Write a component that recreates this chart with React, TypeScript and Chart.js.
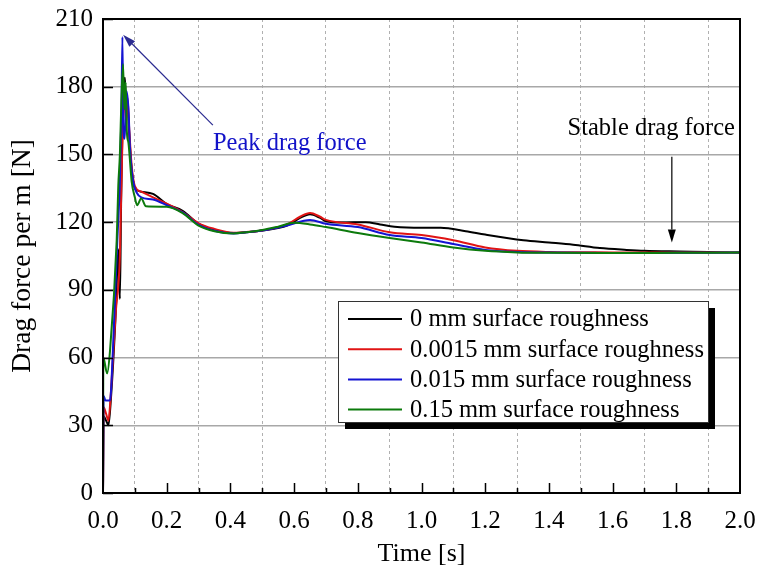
import React, { useEffect, useRef } from "react";
import { Chart, registerables } from "chart.js";

Chart.register(...registerables);

// ---- Data ----
const seriesNames = [
  "0 mm surface roughness",
  "0.0015 mm surface roughness",
  "0.015 mm surface roughness",
  "0.15 mm surface roughness",
];
const seriesColors = ["#000000", "#e01414", "#1414d2", "#0c7a0c"];

const timeBlack = [0, 0.002, 0.01, 0.017, 0.025, 0.04, 0.048, 0.053, 0.057, 0.062, 0.069, 0.073, 0.077, 0.082, 0.09, 0.1, 0.12, 0.157, 0.2, 0.25, 0.3, 0.35, 0.41, 0.45, 0.5, 0.578, 0.62, 0.65, 0.68, 0.7, 0.75, 0.825, 0.87, 0.915, 1.0, 1.06, 1.139, 1.2, 1.32, 1.4, 1.476, 1.56, 1.644, 1.7, 1.81, 1.9, 2.0];
const forceBlack = [0, 34, 32, 30, 42, 80, 108, 86, 130, 170, 184, 168, 172, 160, 143, 135, 133.5, 132.5, 128, 125, 119.3, 116.5, 115.2, 115.5, 116.3, 118.5, 122, 123.5, 122, 120.4, 119.8, 120, 119, 118, 117.5, 117.5, 116, 114.5, 112, 111, 110, 108.5, 107.7, 107.3, 107, 106.8, 106.5];

const timeRed = [0, 0.002, 0.01, 0.017, 0.025, 0.04, 0.053, 0.056, 0.06, 0.064, 0.068, 0.072, 0.077, 0.082, 0.09, 0.1, 0.12, 0.157, 0.2, 0.25, 0.3, 0.35, 0.41, 0.45, 0.5, 0.578, 0.62, 0.65, 0.68, 0.7, 0.8, 0.9, 1.0, 1.1, 1.2, 1.3, 1.4, 1.6, 1.8, 2.0];
const forceRed = [0, 38, 35, 32, 45, 80, 105, 125, 150, 170, 178, 165, 175, 162, 145, 136, 133.5, 131, 128.2, 124.5, 119.5, 117, 115.3, 115.6, 116.3, 119, 122.5, 124, 122.5, 121, 119, 115.5, 114.3, 112, 108.8, 107.3, 106.8, 106.6, 106.5, 106.5];

const timeBlue = [0, 0.002, 0.008, 0.022, 0.031, 0.045, 0.053, 0.058, 0.061, 0.064, 0.068, 0.074, 0.08, 0.085, 0.095, 0.106, 0.12, 0.157, 0.2, 0.25, 0.3, 0.35, 0.41, 0.45, 0.5, 0.578, 0.65, 0.7, 0.8, 0.9, 1.0, 1.1, 1.2, 1.3, 1.4, 1.6, 1.8, 2.0];
const forceBlue = [0, 43, 41, 41, 63, 112, 138, 170, 202, 160, 157, 178, 170, 152, 138, 133, 131, 130, 127.5, 124.3, 118.8, 116.2, 115, 115.5, 116.3, 118.5, 121, 119.3, 117.8, 114.3, 113, 110.3, 107.7, 106.8, 106.5, 106.3, 106.4, 106.5];

const timeGreen = [0, 0.001, 0.013, 0.022, 0.043, 0.048, 0.053, 0.058, 0.063, 0.067, 0.071, 0.075, 0.08, 0.09, 0.1, 0.107, 0.12, 0.135, 0.2, 0.25, 0.3, 0.35, 0.41, 0.45, 0.5, 0.55, 0.6, 0.65, 0.7, 0.8, 0.9, 1.0, 1.1, 1.2, 1.3, 1.4, 1.6, 1.8, 2.0];
const forceGreen = [0, 60, 53, 63, 112, 136, 150, 175, 190, 170, 182, 160, 155, 138, 131, 127.5, 130.5, 127, 126.8, 124, 118.5, 116, 115, 115.5, 116.5, 118, 119.7, 119, 117.8, 115.2, 113, 111, 108.8, 107.3, 106.6, 106.4, 106.3, 106.4, 106.5];

const seriesTimes = [timeBlack, timeRed, timeBlue, timeGreen];
const seriesForces = [forceBlack, forceRed, forceBlue, forceGreen];

const yTickValues = [0, 30, 60, 90, 120, 150, 180, 210];
const xMin = 0;
const xMax = 2.0;

const peakLabel = "Peak drag force";
const peakArrowFrom = [0.345, 163];
const peakArrowTo = [0.063, 203];
const peakLabelAt = [0.345, 155];

const stableLabel = "Stable drag force";
const stableArrowFrom = [1.786, 149];
const stableArrowTo = [1.786, 111];
const stableLabelAt = [1.984, 161.5];

const FONT = "'Liberation Serif', 'Times New Roman', serif";

function drawArrow(ctx: CanvasRenderingContext2D, x1: number, y1: number, x2: number, y2: number, color: string, headLen: number, headW: number) {
  const ang = Math.atan2(y2 - y1, x2 - x1);
  const bx = x2 - headLen * Math.cos(ang);
  const by = y2 - headLen * Math.sin(ang);
  ctx.save();
  ctx.strokeStyle = color;
  ctx.fillStyle = color;
  ctx.lineWidth = 1.2;
  ctx.beginPath();
  ctx.moveTo(x1, y1);
  ctx.lineTo(bx, by);
  ctx.stroke();
  ctx.beginPath();
  ctx.moveTo(x2, y2);
  ctx.lineTo(bx + (headW / 2) * Math.sin(ang), by - (headW / 2) * Math.cos(ang));
  ctx.lineTo(bx - (headW / 2) * Math.sin(ang), by + (headW / 2) * Math.cos(ang));
  ctx.closePath();
  ctx.fill();
  ctx.restore();
}

const framePlugin = {
  id: "frame",
  afterDatasetsDraw(chart: any) {
    const { ctx, chartArea: a, scales } = chart;
    const x = scales.x;
    const y = scales.y;
    ctx.save();
    ctx.strokeStyle = "#000";
    ctx.lineWidth = 1.5;
    ctx.beginPath();
    for (let i = 1; i < 20; i++) {
      const px = Math.round(x.getPixelForValue(i / 10)) + 0.5;
      const len = i % 2 === 0 ? 10 : 5;
      ctx.moveTo(px, a.bottom);
      ctx.lineTo(px, a.bottom - len);
    }
    yTickValues.forEach((v) => {
      const py = Math.round(y.getPixelForValue(v)) + 0.5;
      ctx.moveTo(a.left, py);
      ctx.lineTo(a.left + 10, py);
    });
    ctx.stroke();
    ctx.lineWidth = 2;
    ctx.strokeRect(a.left, a.top, a.right - a.left, a.bottom - a.top);
    ctx.restore();
  },
  afterDraw(chart: any) {
    const { ctx, chartArea: a, scales } = chart;
    const x = scales.x;
    const y = scales.y;
    ctx.save();
    // legend
    const bx = a.left + 235;
    const by = a.top + 282;
    const bw = 370;
    const bh = 121;
    ctx.fillStyle = "#000";
    ctx.fillRect(bx + 7, by + 7, bw, bh);
    ctx.fillStyle = "#fff";
    ctx.fillRect(bx, by, bw, bh);
    ctx.strokeStyle = "#333";
    ctx.lineWidth = 1;
    ctx.strokeRect(bx + 0.5, by + 0.5, bw, bh);
    ctx.font = `24.5px ${FONT}`;
    ctx.textBaseline = "middle";
    ctx.textAlign = "left";
    seriesNames.forEach((name, i) => {
      const ry = by + 18 + i * 30.2;
      ctx.strokeStyle = seriesColors[i];
      ctx.lineWidth = 2;
      ctx.beginPath();
      ctx.moveTo(bx + 10, ry);
      ctx.lineTo(bx + 64, ry);
      ctx.stroke();
      ctx.fillStyle = "#000";
      ctx.fillText(name, bx + 72, ry + 1);
    });
    // annotations
    drawArrow(ctx, x.getPixelForValue(peakArrowFrom[0]), y.getPixelForValue(peakArrowFrom[1]), x.getPixelForValue(peakArrowTo[0]), y.getPixelForValue(peakArrowTo[1]), "#2a2a90", 13, 8);
    ctx.fillStyle = "#1212c8";
    ctx.font = `24.5px ${FONT}`;
    ctx.textAlign = "left";
    ctx.textBaseline = "middle";
    ctx.fillText(peakLabel, x.getPixelForValue(peakLabelAt[0]), y.getPixelForValue(peakLabelAt[1]));
    drawArrow(ctx, x.getPixelForValue(stableArrowFrom[0]), y.getPixelForValue(stableArrowFrom[1]), x.getPixelForValue(stableArrowTo[0]), y.getPixelForValue(stableArrowTo[1]), "#000", 13, 8);
    ctx.fillStyle = "#000";
    ctx.textAlign = "right";
    ctx.fillText(stableLabel, x.getPixelForValue(stableLabelAt[0]), y.getPixelForValue(stableLabelAt[1]));
    ctx.restore();
  },
};

export default function App() {
  const canvasRef = useRef<HTMLCanvasElement | null>(null);

  useEffect(() => {
    const canvas = canvasRef.current;
    if (!canvas) return;
    const datasets = seriesNames.map((name, i) => ({
      label: name,
      data: seriesTimes[i].map((t, j) => ({ x: t, y: seriesForces[i][j] })),
      borderColor: seriesColors[i],
      backgroundColor: seriesColors[i],
      borderWidth: 2,
      pointRadius: 0,
      cubicInterpolationMode: "monotone" as const,
      fill: false,
      order: 3 - i,
    }));
    const chart = new Chart(canvas, {
      type: "line",
      data: { datasets },
      options: {
        responsive: false,
        animation: false,
        devicePixelRatio: 1,
        layout: { padding: { left: 0, right: 20, top: 19, bottom: 0 } },
        plugins: {
          legend: { display: false },
          tooltip: { enabled: false },
        },
        scales: {
          x: {
            type: "linear",
            min: xMin,
            max: xMax,
            afterFit: (s: any) => {
              s.height = 86;
              s.paddingLeft = 0;
              s.paddingRight = 0;
            },
            ticks: {
              stepSize: 0.1,
              autoSkip: false,
              maxRotation: 0,
              padding: 13,
              color: "#000",
              font: { family: FONT, size: 25 },
              callback: (v: any) => {
                const k = Math.round(Number(v) * 10);
                return k % 2 === 0 ? (k / 10).toFixed(1) : "";
              },
            },
            grid: {
              drawTicks: false,
              lineWidth: 1,
              color: (c: any) => {
                const k = Math.round(Number(c.tick?.value) * 10);
                return k % 2 === 1 ? "#b0b0b0" : "rgba(0,0,0,0)";
              },
            },
            border: { display: false, dash: [3, 3] },
            title: {
              display: true,
              text: "Time [s]",
              color: "#000",
              font: { family: FONT, size: 26 },
              padding: { top: 0, bottom: 9 },
            },
          },
          y: {
            type: "linear",
            min: 0,
            max: 210,
            afterFit: (s: any) => {
              s.width = 103;
              s.paddingTop = 0;
              s.paddingBottom = 0;
            },
            ticks: {
              stepSize: 30,
              padding: 10,
              color: "#000",
              font: { family: FONT, size: 25 },
            },
            grid: {
              drawTicks: false,
              lineWidth: 1.5,
              color: (c: any) => {
                const v = Number(c.tick?.value);
                return v === 0 || v === 210 ? "rgba(0,0,0,0)" : "#a8a8a8";
              },
            },
            border: { display: false },
            title: {
              display: true,
              text: "Drag force per m [N]",
              color: "#000",
              font: { family: FONT, size: 27.5 },
              padding: { top: 6, bottom: 0 },
            },
          },
        },
      },
      plugins: [framePlugin],
    });
    return () => chart.destroy();
  }, []);

  return (
    <div style={{ position: "absolute", left: 0, top: 0, width: 760, height: 579, background: "#fff" }}>
      <canvas ref={canvasRef} width={760} height={579} style={{ display: "block" }} />
    </div>
  );
}
